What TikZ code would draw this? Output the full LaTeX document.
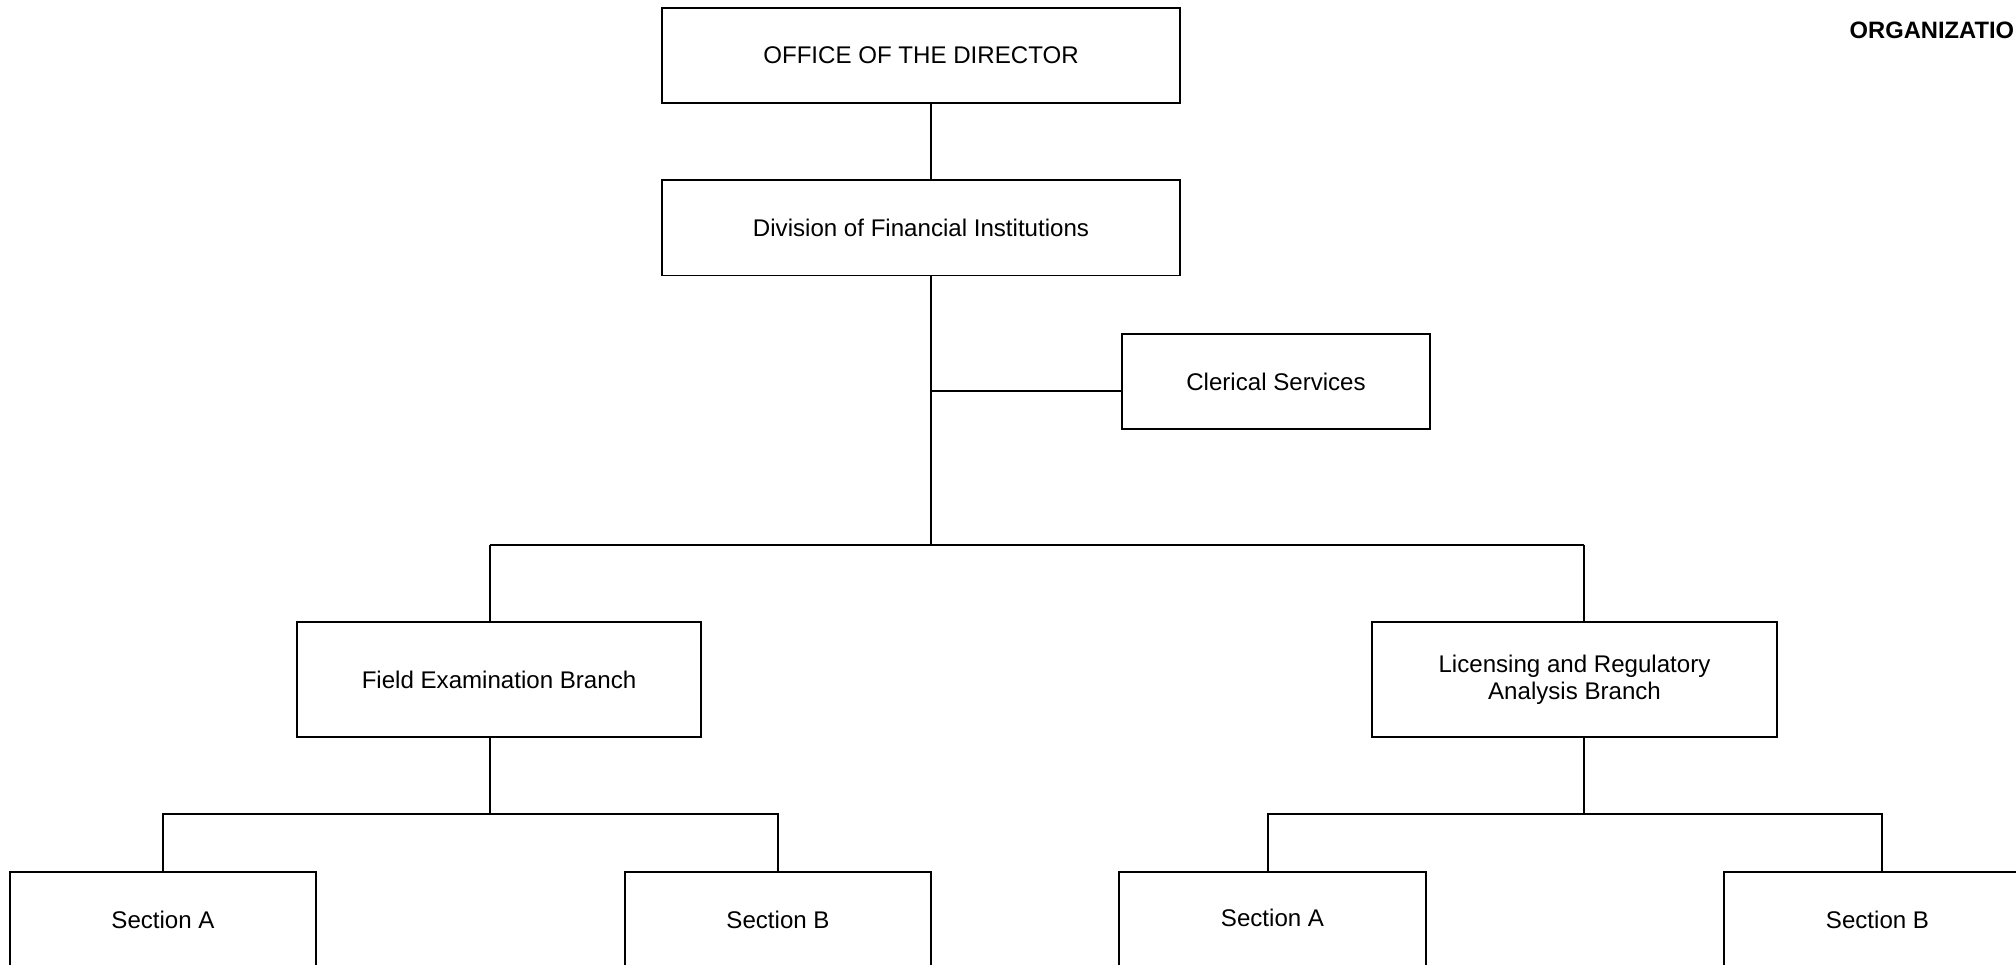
\documentclass[tikz,border=0pt]{standalone}
\usepackage{fontspec}
\setmainfont{Liberation Sans}
\usetikzlibrary{positioning}

\begin{document}
\begin{tikzpicture}[x=0.01cm,y=-0.01cm]

	\tikzstyle{edge} = [draw,-,line width=0.55pt]
	\tikzset{unit/.style = {shape = rectangle,draw,line width=0.55pt,inner sep=0pt,
		minimum width=5.18cm,minimum height=0.95cm,align=center,
		font=\fontsize{6.85}{7.7}\selectfont}}

	\path[use as bounding box] (0,0) rectangle (2016,965);
	\clip (0,0) rectangle (2016,965);

	\node[anchor=west,inner sep=0pt,font=\fontsize{6.75}{8}\selectfont\bfseries] (title) at (1849,30) {ORGANIZATIO};

	\node[unit] (office) at (921,55.5) {OFFICE OF THE DIRECTOR};
	\node[unit] (division) at (921,228) {Division of Financial Institutions};
	\node[unit,minimum width=3.08cm] (clerical) at (1276,381.5) {Clerical Services};

	\tikzset{unit/.append style = {minimum width=4.04cm,minimum height=1.15cm}}
	\node[unit] (field) at (499,679.5) {Field Examination Branch};
	\node[unit] (licensing) at (1574.5,679.5) {Licensing and Regulatory\\Analysis Branch};

	\tikzset{unit/.append style = {minimum width=3.06cm,minimum height=0.96cm}}
	\node[unit] (fieldA) at (163,920) {Section A};
	\node[unit] (fieldB) at (778,920) {Section B};
	\node[unit] (licA) at (1272.5,920) {\raisebox{1.2pt}{Section A}};
	\node[unit] (licB) at (1877.5,920) {Section B};

	\coordinate (clerk) at (931,391);
	\coordinate (hub) at (931,545);
	\coordinate (fieldtop) at (490,545);
	\coordinate (lictop) at (1584,545);
	\coordinate (fieldhub) at (490,814);
	\coordinate (lichub) at (1584,814);

	\draw[edge] (office.south -| hub) to (division.north -| hub);
	\draw[edge] (division.south -| hub) to (hub);
	\draw[edge] (clerk) to (clerk -| clerical.west);
	\draw[edge] (fieldtop) to (lictop);
	\draw[edge] (fieldtop) to (fieldtop |- field.north);
	\draw[edge] (lictop) to (lictop |- licensing.north);

	\draw[edge] (field.south -| fieldhub) to (fieldhub);
	\draw[edge] (fieldA.north) |- (fieldhub);
	\draw[edge] (fieldB.north) |- (fieldhub);
	\draw[edge] (licensing.south -| lichub) to (lichub);
	\draw[edge] (licA.north -| 1268,0) |- (lichub);
	\draw[edge] (licB.north -| 1882,0) |- (lichub);
\end{tikzpicture}
\end{document}
